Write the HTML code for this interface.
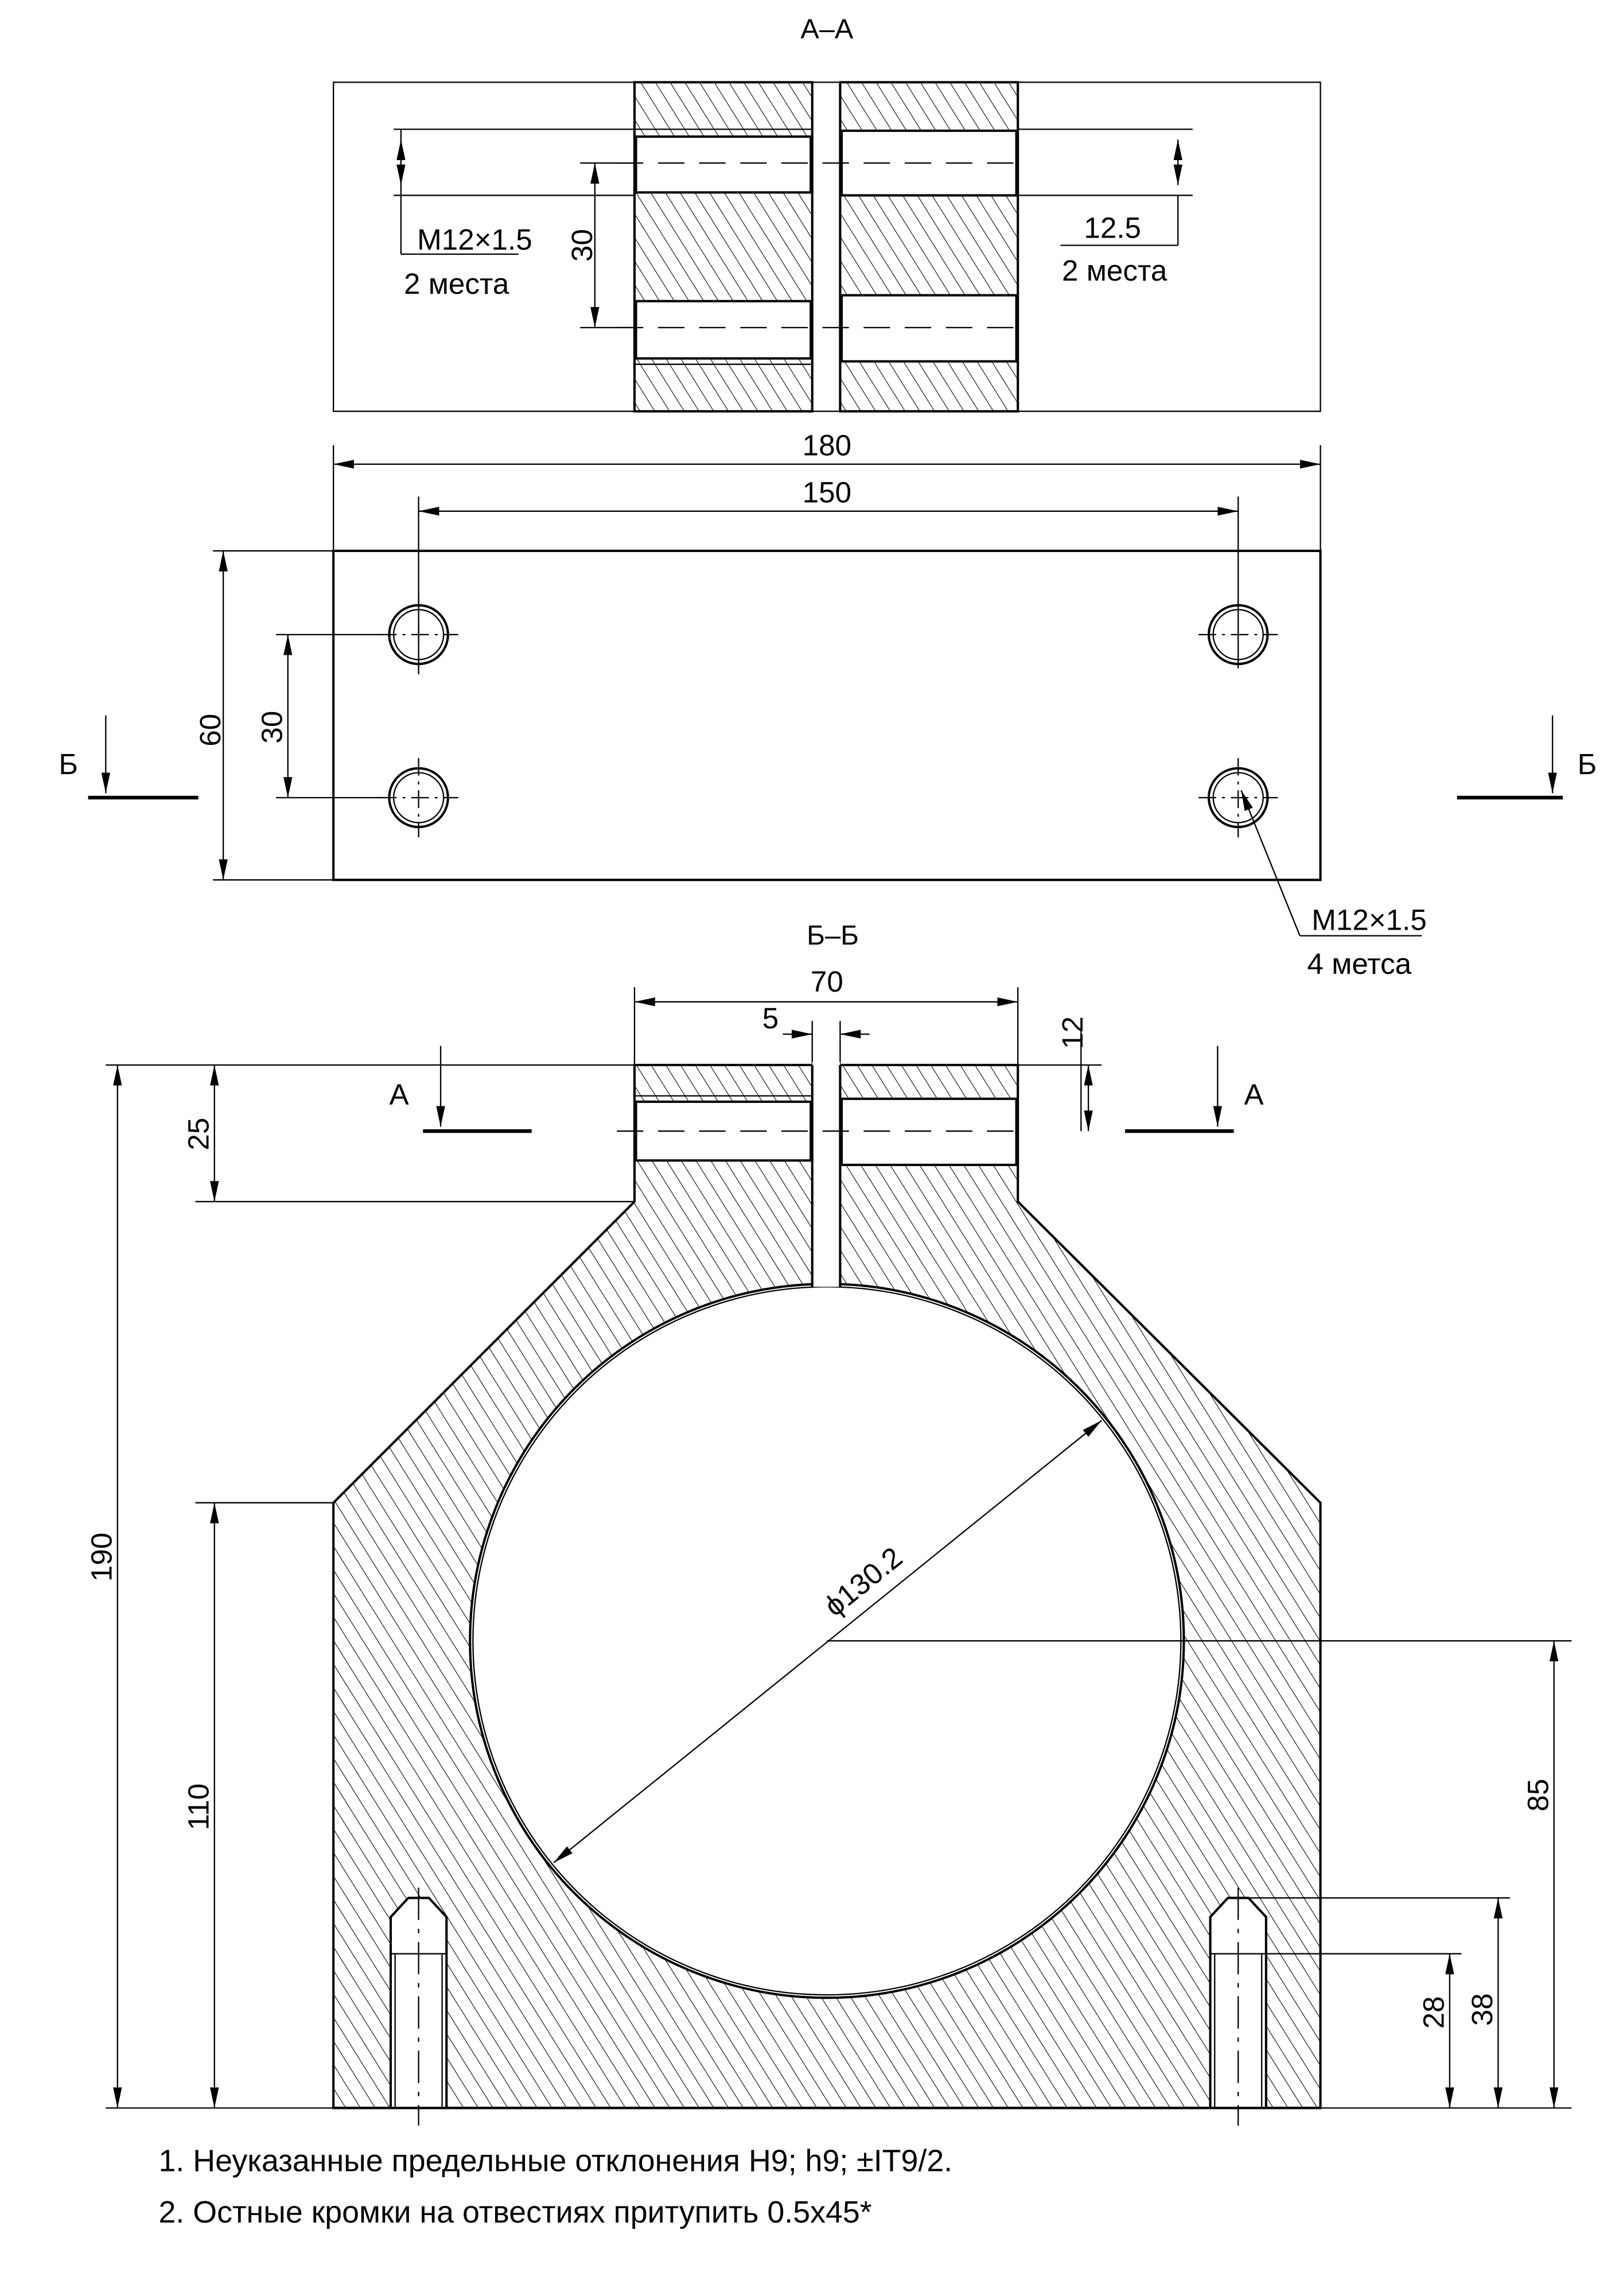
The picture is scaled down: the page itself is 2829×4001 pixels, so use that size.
<!DOCTYPE html>
<html><head><meta charset="utf-8"><style>
html,body{margin:0;padding:0;background:#fff}
svg{display:block}
text{font-family:"Liberation Sans",sans-serif;fill:#000}
</style></head><body>
<svg width="2829" height="4001" viewBox="0 0 1105 1563" preserveAspectRatio="none" xmlns="http://www.w3.org/2000/svg">
<defs>
<pattern id="h" width="8.5" height="8.5" patternUnits="userSpaceOnUse" patternTransform="rotate(-32)">
<line x1="0" y1="0" x2="0" y2="8.5" stroke="#000" stroke-width="0.85"/>
</pattern>
<marker id="a" viewBox="0 0 14 6" refX="14" refY="3" markerWidth="14" markerHeight="6" markerUnits="userSpaceOnUse" orient="auto-start-reverse">
<path d="M0,0 L14,3 L0,6 Z" fill="#000"/>
</marker>
</defs>
<rect width="1105" height="1563" fill="#fff"/>
<g stroke="#000" fill="none" stroke-width="0.9">

<!-- A-A -->
<text x="563" y="26" font-size="19" text-anchor="middle" stroke="none">A–A</text>
<rect x="227" y="56" width="672" height="224"/>
<rect x="432" y="56" width="121" height="224" fill="url(#h)" stroke-width="1.6"/>
<rect x="572" y="56" width="121" height="224" fill="url(#h)" stroke-width="1.6"/>
<rect x="433" y="93" width="119" height="38" fill="#fff" stroke-width="1.6"/>
<rect x="573" y="89" width="119" height="44" fill="#fff" stroke-width="1.6"/>
<rect x="433" y="205" width="119" height="39" fill="#fff" stroke-width="1.6"/>
<rect x="573" y="201" width="119" height="45" fill="#fff" stroke-width="1.6"/>
<line x1="432" y1="88" x2="553" y2="88"/><line x1="432" y1="248" x2="553" y2="248"/>
<line x1="420" y1="111" x2="700" y2="111" stroke-dasharray="18,10"/>
<line x1="420" y1="223" x2="700" y2="223" stroke-dasharray="18,10"/>
<line x1="268" y1="88" x2="432" y2="88"/><line x1="268" y1="133" x2="432" y2="133"/>
<line x1="273" y1="95" x2="273" y2="126" marker-start="url(#a)" marker-end="url(#a)"/>
<line x1="273" y1="88" x2="273" y2="173"/><line x1="273" y1="173" x2="353" y2="173"/>
<text x="284" y="170" font-size="20" stroke="none">M12×1.5</text>
<text x="275" y="200" font-size="20" stroke="none">2 места</text>
<line x1="405" y1="111" x2="405" y2="223" marker-start="url(#a)" marker-end="url(#a)"/>
<line x1="395" y1="111" x2="432" y2="111"/><line x1="395" y1="223" x2="432" y2="223"/>
<text x="0" y="0" font-size="20" stroke="none" transform="translate(403,167) rotate(-90)" text-anchor="middle">30</text>
<line x1="693" y1="88" x2="812" y2="88"/><line x1="693" y1="133" x2="812" y2="133"/>
<line x1="802" y1="95" x2="802" y2="126" marker-start="url(#a)" marker-end="url(#a)"/>
<line x1="802" y1="133" x2="802" y2="167"/><line x1="722" y1="167" x2="802" y2="167"/>
<text x="738" y="162" font-size="20" stroke="none">12.5</text>
<text x="723" y="191" font-size="20" stroke="none">2 места</text>

<!-- top view -->
<text x="563" y="310" font-size="20" text-anchor="middle" stroke="none">180</text>
<line x1="227" y1="303" x2="227" y2="375"/><line x1="899" y1="303" x2="899" y2="375"/>
<line x1="227" y1="316" x2="899" y2="316" marker-start="url(#a)" marker-end="url(#a)"/>
<text x="563" y="342" font-size="20" text-anchor="middle" stroke="none">150</text>
<line x1="285" y1="338" x2="285" y2="455"/><line x1="843" y1="338" x2="843" y2="455"/>
<line x1="285" y1="348" x2="843" y2="348" marker-start="url(#a)" marker-end="url(#a)"/>
<rect x="227" y="375" width="672" height="224" stroke-width="1.6"/>
<g stroke-width="1.6">
<circle cx="285" cy="432" r="20"/><circle cx="285" cy="543" r="20"/>
<circle cx="843" cy="432" r="20"/><circle cx="843" cy="543" r="20"/>
</g>
<circle cx="285" cy="432" r="17"/><circle cx="285" cy="543" r="17"/>
<circle cx="843" cy="432" r="17"/><circle cx="843" cy="543" r="17"/>
<g stroke-dasharray="12,4,2,4">
<line x1="258" y1="432" x2="312" y2="432"/><line x1="285" y1="405" x2="285" y2="459"/>
<line x1="258" y1="543" x2="312" y2="543"/><line x1="285" y1="516" x2="285" y2="570"/>
<line x1="816" y1="432" x2="870" y2="432"/>
<line x1="816" y1="543" x2="870" y2="543"/><line x1="843" y1="516" x2="843" y2="570"/>
</g>
<line x1="145" y1="375" x2="227" y2="375"/><line x1="145" y1="599" x2="227" y2="599"/>
<line x1="152" y1="375" x2="152" y2="599" marker-start="url(#a)" marker-end="url(#a)"/>
<text font-size="20" stroke="none" transform="translate(150,497) rotate(-90)" text-anchor="middle">60</text>
<line x1="188" y1="432" x2="260" y2="432"/><line x1="188" y1="543" x2="260" y2="543"/>
<line x1="196" y1="432" x2="196" y2="543" marker-start="url(#a)" marker-end="url(#a)"/>
<text font-size="20" stroke="none" transform="translate(192,495) rotate(-90)" text-anchor="middle">30</text>
<line x1="72" y1="487" x2="72" y2="540" marker-end="url(#a)"/>
<line x1="60" y1="543" x2="135" y2="543" stroke-width="2.5"/>
<text x="40" y="527" font-size="20" stroke="none">Б</text>
<line x1="1057" y1="487" x2="1057" y2="540" marker-end="url(#a)"/>
<line x1="992" y1="543" x2="1064" y2="543" stroke-width="2.5"/>
<text x="1074" y="527" font-size="20" stroke="none">Б</text>
<line x1="885" y1="637" x2="845" y2="538" marker-end="url(#a)"/>
<line x1="885" y1="637" x2="968" y2="637"/>
<text x="893" y="633" font-size="20" stroke="none">M12×1.5</text>
<text x="890" y="663" font-size="20" stroke="none">4 метса</text>

<!-- B-B -->
<text x="567" y="643" font-size="19" text-anchor="middle" stroke="none">Б–Б</text>
<text x="563" y="675" font-size="20" text-anchor="middle" stroke="none">70</text>
<line x1="432" y1="672" x2="432" y2="725"/><line x1="693" y1="672" x2="693" y2="725"/>
<line x1="432" y1="682" x2="693" y2="682" marker-start="url(#a)" marker-end="url(#a)"/>
<text x="519" y="700" font-size="20" stroke="none">5</text>
<line x1="553" y1="695" x2="553" y2="725"/><line x1="572" y1="695" x2="572" y2="725"/>
<line x1="533" y1="704" x2="553" y2="704" marker-end="url(#a)"/>
<line x1="592" y1="704" x2="572" y2="704" marker-end="url(#a)"/>
<line x1="693" y1="725" x2="750" y2="725"/><line x1="736" y1="700" x2="736" y2="770"/>
<line x1="741" y1="725" x2="741" y2="770" marker-start="url(#a)" marker-end="url(#a)"/>
<text font-size="20" stroke="none" transform="translate(737,703) rotate(-90)" text-anchor="middle">12</text>

<path d="M432,725 L432,818 L227,1023 L227,1435 L899,1435 L899,1023 L693,818 L693,725 Z M806,1117 A243,243 0 1 0 320,1117 A243,243 0 1 0 806,1117 Z" fill="url(#h)" fill-rule="evenodd" stroke-width="1.6"/>
<circle cx="563" cy="1117" r="241"/>
<rect x="553" y="723" width="19" height="153" fill="#fff" stroke="none"/>
<line x1="553" y1="725" x2="553" y2="876" stroke-width="1.6"/><line x1="572" y1="725" x2="572" y2="876" stroke-width="1.6"/>
<rect x="433" y="750" width="119" height="40" fill="#fff" stroke-width="1.6"/>
<rect x="573" y="748" width="119" height="45" fill="#fff" stroke-width="1.6"/>
<line x1="432" y1="746" x2="553" y2="746"/>
<line x1="420" y1="770" x2="700" y2="770" stroke-dasharray="18,10"/>
<line x1="72" y1="725" x2="432" y2="725"/>
<line x1="80" y1="725" x2="80" y2="1435" marker-start="url(#a)" marker-end="url(#a)"/>
<text font-size="20" stroke="none" transform="translate(76,1060) rotate(-90)" text-anchor="middle">190</text>
<line x1="72" y1="1435" x2="1070" y2="1435"/>
<line x1="133" y1="818" x2="432" y2="818"/>
<line x1="146" y1="725" x2="146" y2="818" marker-start="url(#a)" marker-end="url(#a)"/>
<text font-size="20" stroke="none" transform="translate(142,772) rotate(-90)" text-anchor="middle">25</text>
<line x1="133" y1="1023" x2="227" y2="1023"/>
<line x1="146" y1="1023" x2="146" y2="1435" marker-start="url(#a)" marker-end="url(#a)"/>
<text font-size="20" stroke="none" transform="translate(142,1230) rotate(-90)" text-anchor="middle">110</text>
<line x1="300" y1="712" x2="300" y2="767" marker-end="url(#a)"/>
<line x1="288" y1="770" x2="362" y2="770" stroke-width="2.5"/>
<text x="265" y="752" font-size="20" stroke="none">A</text>
<line x1="829" y1="712" x2="829" y2="767" marker-end="url(#a)"/>
<line x1="766" y1="770" x2="840" y2="770" stroke-width="2.5"/>
<text x="847" y="752" font-size="20" stroke="none">A</text>
<line x1="563" y1="1117" x2="1070" y2="1117"/>
<line x1="1058" y1="1117" x2="1058" y2="1435" marker-start="url(#a)" marker-end="url(#a)"/>
<text font-size="20" stroke="none" transform="translate(1054,1222) rotate(-90)" text-anchor="middle">85</text>
<line x1="850" y1="1292" x2="1028" y2="1292"/>
<line x1="1020" y1="1292" x2="1020" y2="1435" marker-start="url(#a)" marker-end="url(#a)"/>
<text font-size="20" stroke="none" transform="translate(1016,1368) rotate(-90)" text-anchor="middle">38</text>
<line x1="850" y1="1330" x2="995" y2="1330"/>
<line x1="987" y1="1330" x2="987" y2="1435" marker-start="url(#a)" marker-end="url(#a)"/>
<text font-size="20" stroke="none" transform="translate(983,1370) rotate(-90)" text-anchor="middle">28</text>
<line x1="377" y1="1268" x2="750" y2="967" marker-start="url(#a)" marker-end="url(#a)"/>
<text font-size="20" stroke="none" transform="translate(592,1082) rotate(-39)" text-anchor="middle">ϕ130.2</text>

<!-- bottom holes -->
<g stroke-width="1.6">
<path d="M266,1435 L266,1305 L278,1292 L292,1292 L304,1305 L304,1435" fill="#fff"/>
<path d="M824,1435 L824,1305 L836,1292 L850,1292 L862,1305 L862,1435" fill="#fff"/>
</g>
<line x1="266" y1="1330" x2="304" y2="1330"/><line x1="269" y1="1330" x2="269" y2="1435"/><line x1="301" y1="1330" x2="301" y2="1435"/>
<line x1="824" y1="1330" x2="862" y2="1330"/><line x1="827" y1="1330" x2="827" y2="1435"/><line x1="859" y1="1330" x2="859" y2="1435"/>
<line x1="285" y1="1285" x2="285" y2="1447" stroke-dasharray="22,6,3,6"/>
<line x1="843" y1="1285" x2="843" y2="1447" stroke-dasharray="22,6,3,6"/>
<line x1="227" y1="1435" x2="899" y2="1435" stroke-width="1.6"/>

<text x="108" y="1478" font-size="21" stroke="none">1. Неуказанные предельные отклонения  H9; h9; ±IT9/2.</text>
<text x="108" y="1513" font-size="21" stroke="none">2. Остные кромки на отвестиях притупить 0.5x45*</text>
</g>
</svg>
</body></html>
